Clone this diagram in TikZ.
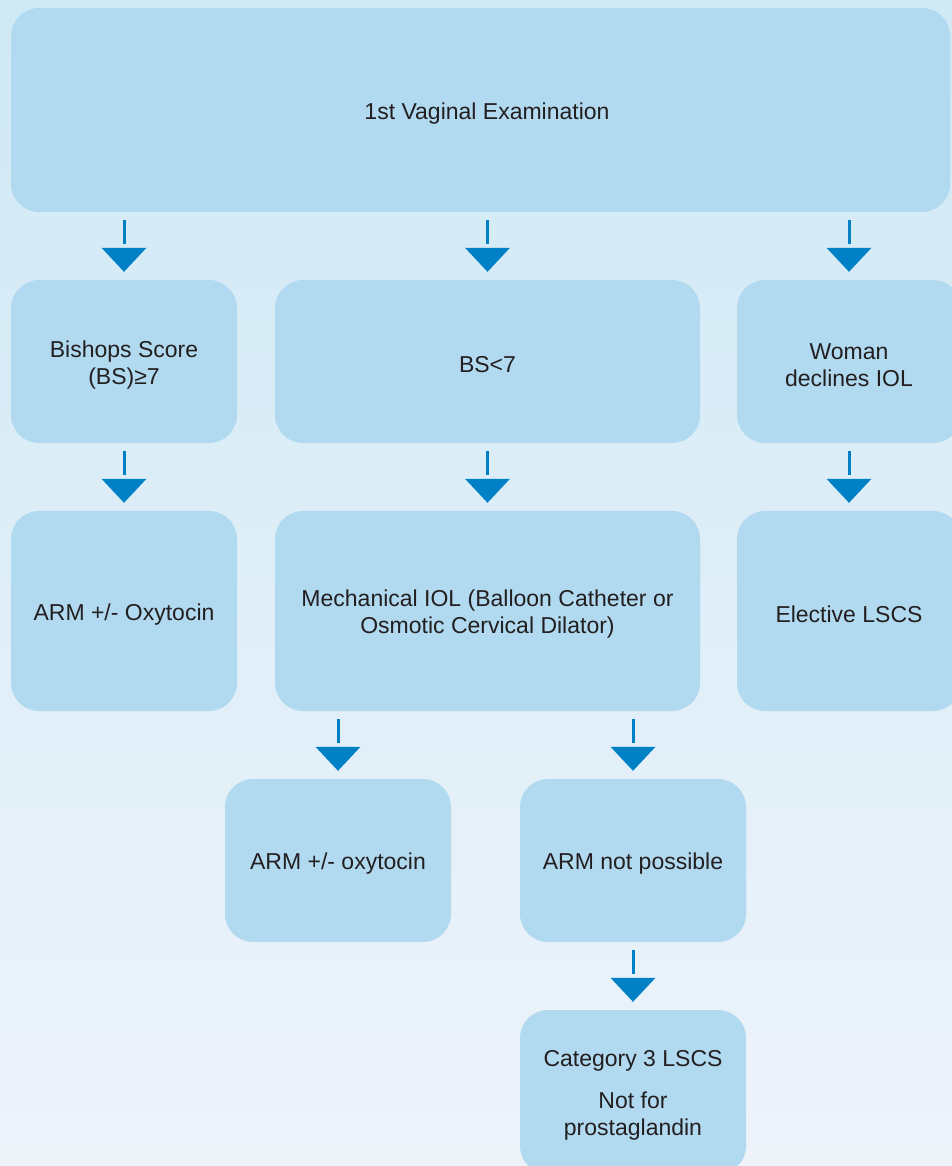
\documentclass[tikz,border=0pt]{standalone}
\usepackage{fontspec}
\setmainfont{Liberation Sans}
\usetikzlibrary{calc}
\definecolor{bgtop}{HTML}{CFE9F5}
\definecolor{bgbot}{HTML}{EEF3FA}
\definecolor{boxblue}{HTML}{B1D9EF}
\definecolor{arrowblue}{HTML}{0081C6}
\definecolor{txt}{HTML}{231F20}
\tikzset{
  flowbox/.style={fill=boxblue, rounded corners=28pt, inner sep=0pt},
  boxtext/.style={align=center, inner sep=0pt, text=txt, font=\fontsize{23}{27}\selectfont},
  stemline/.style={draw=arrowblue, line width=3pt},
  headfill/.style={fill=arrowblue},
}
\newcommand\flowarrow[2]{%
  \draw[stemline] ($(#1.south -| #2.north)+(0,8)$) -- ($(#1.south -| #2.north)+(0,32)$);
  \path[headfill] ($(#2.north)+(-22.5,-32)$) -- ($(#2.north)+(22.5,-32)$) -- ($(#2.north)+(0,-8)$) -- cycle;}
\newcommand\boxlabel[3][0]{\node[boxtext] (#2-t) at ($(#2.center)+(#1,3.5)$) {#3};}
\begin{document}
\begin{tikzpicture}[x=1pt,y=-1pt]
\useasboundingbox (0,0) rectangle (952,1166);
\clip (0,0) rectangle (952,1166);
\shade[top color=bgtop, bottom color=bgbot] (0,0) rectangle (952,1166);

\node[flowbox, minimum width=939pt, minimum height=204pt] (top) at (480.5,110) {};
\node[flowbox, minimum width=226pt, minimum height=163pt] (bsge) at (124,361.5) {};
\node[flowbox, minimum width=425pt, minimum height=163pt] (bslt) at (487.5,361.5) {};
\node[flowbox, minimum width=224pt, minimum height=163pt] (decl) at (849,361.5) {};
\node[flowbox, minimum width=226pt, minimum height=200pt] (arma) at (124,611) {};
\node[flowbox, minimum width=425pt, minimum height=200pt] (mech) at (487.5,611) {};
\node[flowbox, minimum width=224pt, minimum height=200pt] (elec) at (849,611) {};
\node[flowbox, minimum width=226pt, minimum height=163pt] (armb) at (338,860.5) {};
\node[flowbox, minimum width=226pt, minimum height=163pt] (armn) at (633,860.5) {};
\node[flowbox, minimum width=226pt, minimum height=164pt] (cat3) at (633,1092) {};

\boxlabel[6.5]{top}{1st Vaginal Examination}
\boxlabel{bsge}{Bishops Score\\(BS)≥7}
\boxlabel{bslt}{BS<7}
\boxlabel{decl}{Woman\\declines IOL}
\boxlabel{arma}{ARM +/- Oxytocin}
\boxlabel{mech}{Mechanical IOL (Balloon Catheter or\\Osmotic Cervical Dilator)}
\boxlabel{elec}{Elective LSCS}
\boxlabel{armb}{ARM +/- oxytocin}
\boxlabel{armn}{ARM not possible}
\boxlabel{cat3}{Category 3 LSCS\\[15pt]Not for\\prostaglandin}

\flowarrow{top}{bsge}
\flowarrow{top}{bslt}
\flowarrow{top}{decl}
\flowarrow{bsge}{arma}
\flowarrow{bslt}{mech}
\flowarrow{decl}{elec}
\flowarrow{mech}{armb}
\flowarrow{mech}{armn}
\flowarrow{armn}{cat3}
\end{tikzpicture}
\end{document}
